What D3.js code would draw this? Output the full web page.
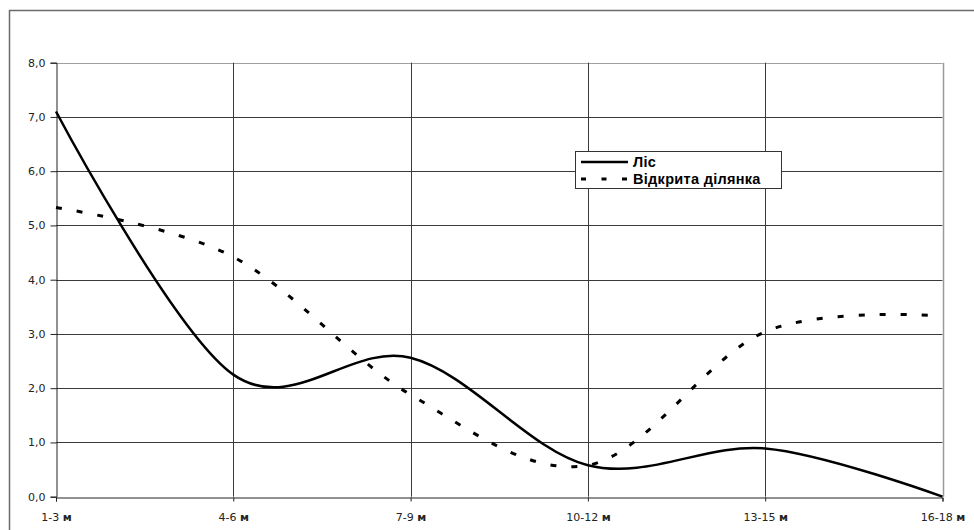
<!DOCTYPE html>
<html><head><meta charset="utf-8">
<script src="https://cdn.jsdelivr.net/npm/d3@7"></script>
<style>body{margin:0;background:#fff}svg{display:block}</style>
</head><body><svg id="c" width="974" height="530"></svg>
<script>
const categories = ["1-3", "4-6", "7-9", "10-12", "13-15", "16-18"];
const unit = "м";
const lisValues = [7.1, 2.25, 2.56, 0.58, 0.89, 0.0];
const openValues = [5.33, 4.42, 1.88, 0.58, 3.04, 3.33];
const yTicks = [0, 1, 2, 3, 4, 5, 6, 7, 8];
const seriesNames = ["Ліс", "Відкрита ділянка"];

const svg = d3.select("#c");
const L = 56, R = 942.5, T = 62.7, B = 496.7;
const x = d3.scalePoint().domain(categories).range([L, R]);
const y = d3.scaleLinear().domain([0, 8]).range([B, T]);
const tickFont = "'DejaVu Sans',Verdana,sans-serif";
const legendFont = "'Liberation Sans',Arial,sans-serif";

// outer frame
svg.append("path").attr("d", `M9.5,530 V10.5 H974`).attr("fill","none").attr("stroke","#6a6a6a").attr("stroke-width",1.5);

// horizontal grid
svg.append("g").selectAll("line").data(yTicks.filter(d=>d>0)).join("line")
  .attr("x1", L).attr("x2", R).attr("y1", d=>Math.round(y(d))+0.5).attr("y2", d=>Math.round(y(d))+0.5)
  .attr("stroke", d=> d===8 ? "#a0a0a0" : "#3a3a3a").attr("stroke-width",1);
// vertical grid
svg.append("g").selectAll("line").data(categories.slice(1)).join("line")
  .attr("x1", d=>Math.round(x(d))+0.5).attr("x2", d=>Math.round(x(d))+0.5).attr("y1", T).attr("y2", B)
  .attr("stroke", (d,i)=> i===categories.length-2 ? "#9a9a9a" : "#3a3a3a").attr("stroke-width", (d,i)=> i===categories.length-2 ? 1.5 : 1);

// axes
const yAxis = d3.axisLeft(y).tickValues(yTicks).tickSize(6).tickPadding(5)
  .tickFormat(d=>d3.format(".1f")(d).replace(".", ","));
const gy = svg.append("g").attr("transform", `translate(${L+0.5},0)`).call(yAxis);
gy.select(".domain").attr("stroke","#222");
gy.selectAll(".tick line").attr("stroke","#222");
gy.selectAll(".tick text").style("font-size","11px").style("font-family", tickFont).attr("fill","#222");

const xAxis = d3.axisBottom(x).tickSize(4).tickPadding(8).tickFormat(()=> "");
const gx = svg.append("g").attr("transform", `translate(0,${Math.round(B)+0.5})`).call(xAxis);
gx.select(".domain").attr("stroke","#222");
gx.selectAll(".tick line").attr("stroke","#222");
gx.selectAll(".tick text").remove();
gx.selectAll(".tick").append("text").attr("y", 23.5).attr("text-anchor","middle")
  .style("font-size","11px").style("font-family", tickFont).attr("fill","#222")
  .each(function(d){
    const t = d3.select(this);
    t.append("tspan").text(d + " ");
    t.append("tspan").style("font-weight","bold").text(unit);
  });

// lines
const line = d3.line().x((d,i)=>x(categories[i])).y(d=>y(d)).curve(d3.curveCardinal.tension(0));
svg.append("path").attr("d", line(openValues)).attr("fill","none").attr("stroke","#000")
  .attr("stroke-width",3).attr("stroke-dasharray","6,15");
svg.append("path").attr("d", line(lisValues)).attr("fill","none").attr("stroke","#000")
  .attr("stroke-width",2.5);

// legend
const lg = svg.append("g");
lg.append("rect").attr("x",575.5).attr("y",151.5).attr("width",206).attr("height",37)
  .attr("fill","#fff").attr("stroke","#333").attr("stroke-width",1);
lg.append("line").attr("x1",581).attr("x2",628).attr("y1",162).attr("y2",162).attr("stroke","#000").attr("stroke-width",2.5);
lg.append("line").attr("x1",581).attr("x2",628).attr("y1",179).attr("y2",179).attr("stroke","#000").attr("stroke-width",3).attr("stroke-dasharray","5,15.5");
lg.selectAll("text").data(seriesNames).join("text")
  .attr("x",633).attr("y",(d,i)=>167+i*17)
  .style("font-size","14.5px").style("font-family", legendFont).style("font-weight","bold")
  .style("letter-spacing","0.3px")
  .attr("fill","#000").text(d=>d);
</script></body></html>
